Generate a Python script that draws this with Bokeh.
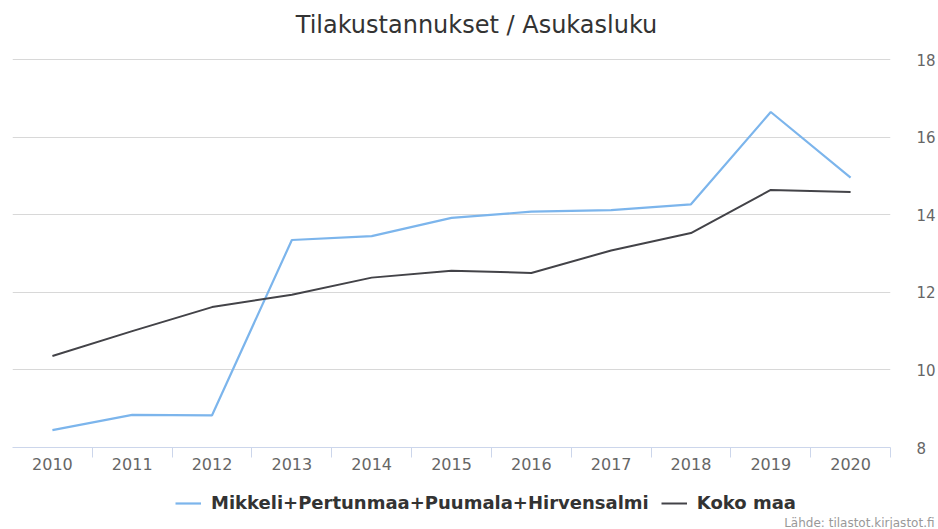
from bokeh.plotting import figure
from bokeh.layouts import column
from bokeh.models import FixedTicker, Legend, LegendItem, Range1d, Label, Title
from bokeh.embed import file_html
from bokeh.resources import INLINE

# ---- data ----
years = [2010, 2011, 2012, 2013, 2014, 2015, 2016, 2017, 2018, 2019, 2020]
year_labels = ["2010", "2011", "2012", "2013", "2014", "2015", "2016", "2017", "2018", "2019", "2020"]
mikkeli = [8.45, 8.84, 8.83, 13.35, 13.45, 13.92, 14.08, 14.12, 14.27, 16.65, 14.96]
koko_maa = [10.36, 11.00, 11.62, 11.94, 12.38, 12.56, 12.50, 13.08, 13.53, 14.64, 14.59]
y_ticks = [8, 10, 12, 14, 16, 18]
series_names = ["Mikkeli+Pertunmaa+Puumala+Hirvensalmi", "Koko maa"]
series_colors = ["#7cb5ec", "#434348"]
title_text = "Tilakustannukset / Asukasluku"
credit_text = "Lähde: tilastot.kirjastot.fi"

FONT = "DejaVu Sans"


def strip(height):
    f = figure(width=938, height=height, output_backend="svg", toolbar_location=None,
               x_range=Range1d(years[0] - 0.5, years[-1] + 0.5),
               y_range=Range1d(100, 101),
               x_axis_location=None, y_axis_location=None, min_border=0)
    f.outline_line_color = None
    f.grid.visible = False
    f.background_fill_color = "white"
    f.border_fill_color = "white"
    return f


# ---------------- title strip ----------------
p0 = strip(40)
p0.add_layout(Label(x=464, y=16, x_units="screen", y_units="screen", text=title_text,
                    text_align="center", text_baseline="middle",
                    text_font=FONT, text_font_size="24px", text_color="#333333"))

# ---------------- main chart ----------------
p = figure(width=938, height=450, output_backend="svg", toolbar_location=None,
           x_range=Range1d(years[0] - 0.5, years[-1] + 0.5),
           y_range=Range1d(y_ticks[0], y_ticks[-1] + 0.03),
           y_axis_location="right",
           min_border_left=12, min_border_right=46, min_border_top=18, min_border_bottom=43)

p.outline_line_color = None
p.background_fill_color = "white"
p.border_fill_color = "white"

xa = p.xaxis[0]
xa.ticker = FixedTicker(ticks=years, minor_ticks=[y + 0.5 for y in years])
xa.major_label_overrides = {y: l for y, l in zip(years, year_labels)}
xa.major_tick_line_color = None
xa.major_tick_out = 0
xa.major_tick_in = 0
xa.minor_tick_out = 10
xa.minor_tick_in = 0
xa.minor_tick_line_color = "#ccd6eb"
xa.axis_line_color = "#ccd6eb"
xa.major_label_text_font = FONT
xa.major_label_text_font_size = "16px"
xa.major_label_text_color = "#666666"
xa.major_label_standoff = 0

ya = p.yaxis[0]
ya.ticker = FixedTicker(ticks=y_ticks)
ya.axis_line_color = None
ya.major_tick_line_color = None
ya.major_tick_out = 0
ya.major_tick_in = 0
ya.minor_tick_line_color = None
ya.minor_tick_out = 0
ya.major_label_text_font = FONT
ya.major_label_text_font_size = "15px"
ya.major_label_text_color = "#666666"
ya.major_label_standoff = 26

p.xgrid.visible = False
p.ygrid.ticker = FixedTicker(ticks=y_ticks)
p.ygrid.grid_line_color = "#d8d8d8"
p.ygrid.grid_line_width = 1

p.line(years, mikkeli, line_color=series_colors[0], line_width=2.2)
p.line(years, koko_maa, line_color=series_colors[1], line_width=2)

# ---------------- legend + credit strip ----------------
p2 = strip(39)
l1 = p2.line(years, mikkeli, line_color=series_colors[0], line_width=2.2)
l2 = p2.line(years, koko_maa, line_color=series_colors[1], line_width=2)

legend = Legend(items=[LegendItem(label=series_names[0], renderers=[l1]),
                       LegendItem(label=series_names[1], renderers=[l2])],
                orientation="horizontal", location=(163, 0))
legend.label_text_font = FONT
legend.label_text_font_size = "18px"
legend.label_text_font_style = "bold"
legend.label_text_color = "#333333"
legend.glyph_width = 26
legend.glyph_height = 16
legend.label_height = 20
legend.label_standoff = 10
legend.spacing = 12
legend.padding = 0
legend.margin = 0
legend.border_line_color = None
legend.background_fill_alpha = 0
p2.add_layout(legend)

credit = Title(text=credit_text, align="right", offset=-44, standoff=0,
               text_font=FONT, text_font_size="12px", text_font_style="normal",
               text_color="#999999")
p2.add_layout(credit, "below")

layout = column(p0, p, p2, spacing=0)
open("out.html", "w").write(file_html(layout, INLINE))
